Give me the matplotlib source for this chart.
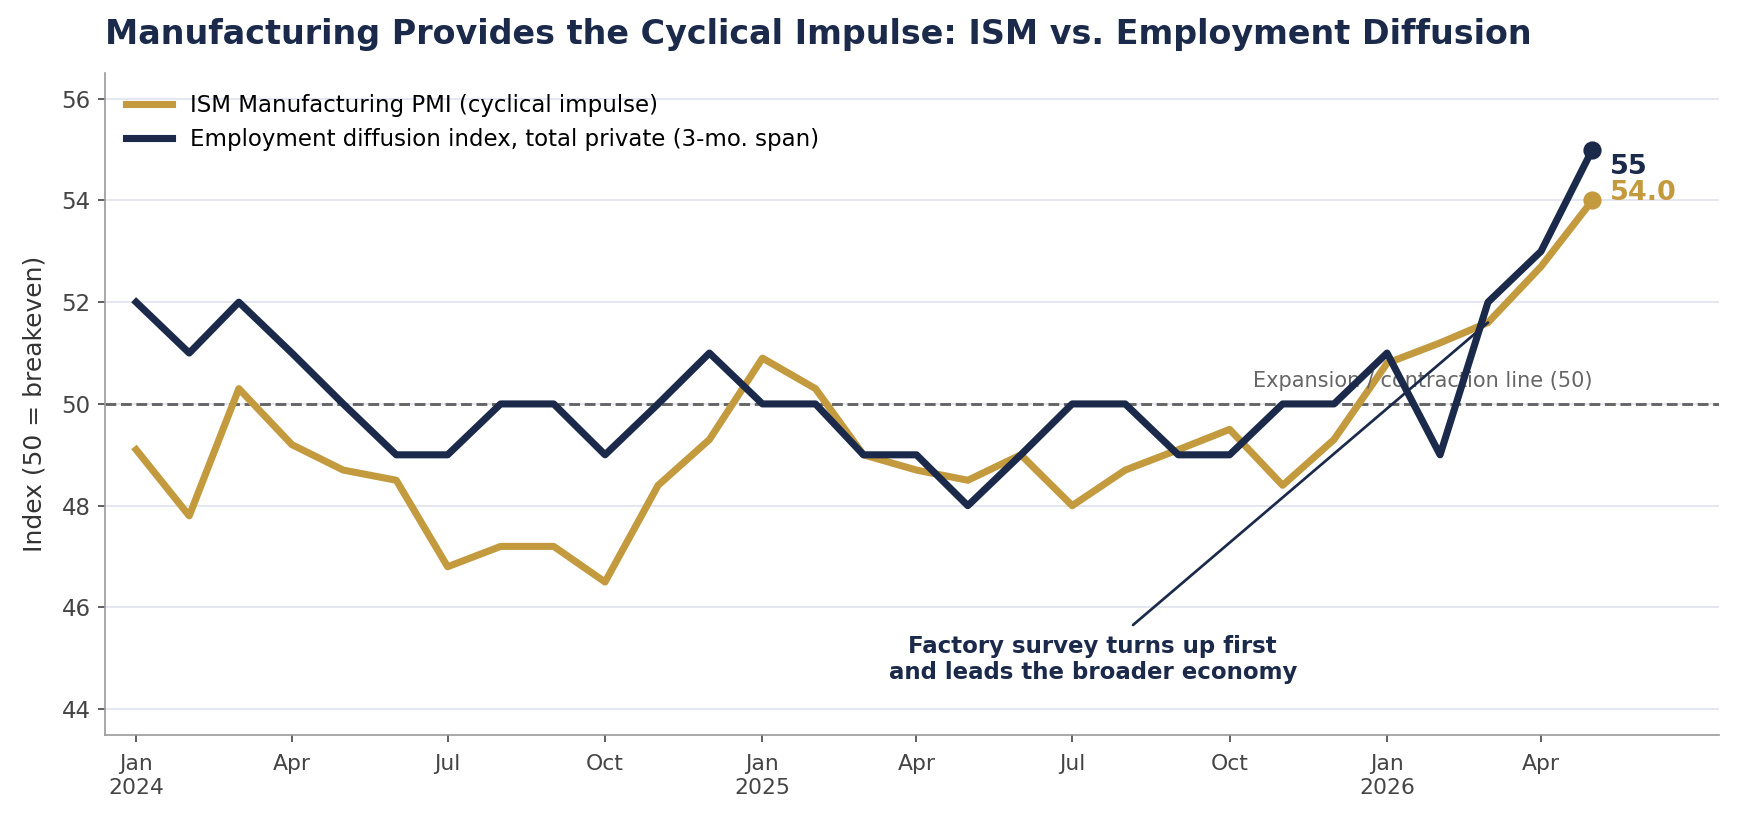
import matplotlib
matplotlib.use("Agg")
import matplotlib.pyplot as plt
import pandas as pd

# monthly data, Jan 2024 - May 2026
months = pd.date_range("2024-01-01", "2026-05-01", freq="MS")
ism = [49.1, 47.8, 50.3, 49.2, 48.7, 48.5, 46.8, 47.2, 47.2, 46.5, 48.4, 49.3,
       50.9, 50.3, 49.0, 48.7, 48.5, 49.0, 48.0, 48.7, 49.1, 49.5, 48.4, 49.3,
       50.8, 51.2, 51.6, 52.7, 54.0]
emp = [52, 51, 52, 51, 50, 49, 49, 50, 50, 49, 50, 51,
       50, 50, 49, 49, 48, 49, 50, 50, 49, 49, 50, 50,
       51, 49, 52, 53, 55]
tick_dates = pd.date_range("2024-01-01", "2026-04-01", freq="QS")
tick_labels = ["Jan\n2024", "Apr", "Jul", "Oct", "Jan\n2025", "Apr", "Jul", "Oct",
               "Jan\n2026", "Apr"]

gold = "#c39a3e"
navy = "#1b2a4a"

fig, ax = plt.subplots(figsize=(1739/150, 819/150), dpi=150)

ax.plot(months, ism, color=gold, lw=3.4, label="ISM Manufacturing PMI (cyclical impulse)", zorder=3)
ax.plot(months, emp, color=navy, lw=3.4, label="Employment diffusion index, total private (3-mo. span)", zorder=4)
ax.scatter([months[-1]], [ism[-1]], color=gold, s=60, zorder=5)
ax.scatter([months[-1]], [emp[-1]], color=navy, s=60, zorder=5)
ax.text(months[-1] + pd.Timedelta(days=10), emp[-1] - 0.35, f"{emp[-1]}", color=navy,
        fontsize=13, fontweight="bold", va="center", ha="left")
ax.text(months[-1] + pd.Timedelta(days=10), ism[-1] + 0.15, f"{ism[-1]:.1f}", color=gold,
        fontsize=13, fontweight="bold", va="center", ha="left")

ax.axhline(50, color="#666666", ls="--", lw=1.4, zorder=2)
ax.text(months[-1], 50.25, "Expansion / contraction line (50)", color="#666666",
        fontsize=10, ha="right", va="bottom")

ax.annotate("Factory survey turns up first\nand leads the broader economy",
            xy=(months[26], ism[26]), xytext=(pd.Timestamp("2025-07-13"), 44.98),
            ha="center", va="center", fontsize=11, fontweight="bold", color=navy,
            arrowprops=dict(arrowstyle="-", color=navy, lw=1.3, shrinkA=4, shrinkB=0))

ax.set_ylim(43.5, 56.5)
ax.set_yticks([44, 46, 48, 50, 52, 54, 56])
ax.set_xlim(pd.Timestamp("2023-12-14"), pd.Timestamp("2026-07-14"))
ax.set_xticks(tick_dates)
ax.set_xticklabels(tick_labels)
ax.set_ylabel("Index (50 = breakeven)", fontsize=12, color="#333333", labelpad=7)
ax.tick_params(axis="both", colors="#444444", labelsize=11)
ax.tick_params(axis="x", labelsize=10.5, pad=6)

ax.grid(axis="y", color="#e3e6ee", lw=0.9)
ax.set_axisbelow(True)
for s in ["top", "right"]:
    ax.spines[s].set_visible(False)
for s in ["left", "bottom"]:
    ax.spines[s].set_color("#999999")

ax.legend(loc="upper left", frameon=False, fontsize=11, handlelength=2.0)
ax.set_title("Manufacturing Provides the Cyclical Impulse: ISM vs. Employment Diffusion",
             fontsize=16, fontweight="bold", color=navy, loc="left", pad=14)

plt.subplots_adjust(left=0.0606, right=0.9885, top=0.9106, bottom=0.103)
plt.savefig("out.png", dpi=150)
